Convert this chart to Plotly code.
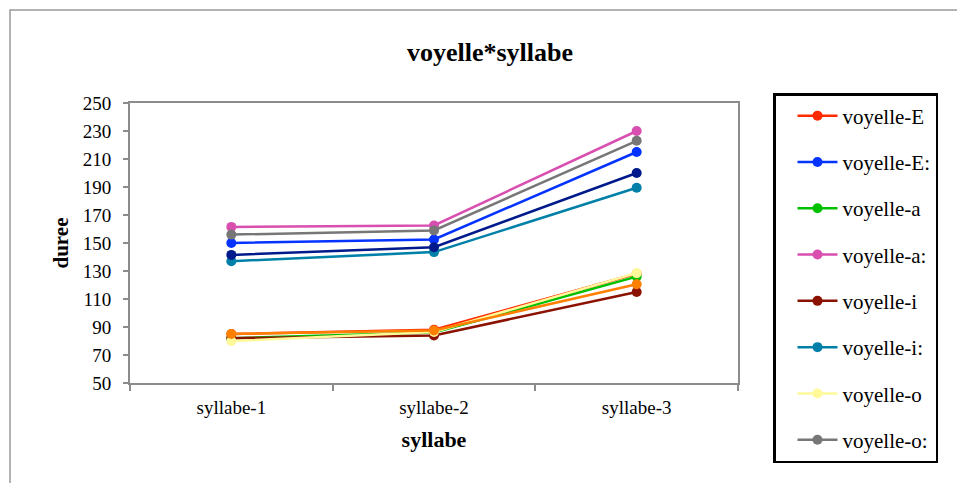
import plotly.graph_objects as go

categories = ["syllabe-1", "syllabe-2", "syllabe-3"]

series_names = ["voyelle-E", "voyelle-E:", "voyelle-a", "voyelle-a:", "voyelle-i",
                "voyelle-i:", "voyelle-o", "voyelle-o:", "voyelle-u", "voyelle-u:"]
voyelle_E = [85, 88, 128]
voyelle_E_long = [150, 152.5, 215]
voyelle_a = [82, 86, 126]
voyelle_a_long = [161.5, 162.5, 230]
voyelle_i = [82, 84, 115]
voyelle_i_long = [137, 143.5, 189.5]
voyelle_o = [80, 86.5, 128.5]
voyelle_o_long = [156, 159, 223]
voyelle_u = [85, 87.5, 120.5]
voyelle_u_long = [141.5, 147, 200]

values = [voyelle_E, voyelle_E_long, voyelle_a, voyelle_a_long, voyelle_i,
          voyelle_i_long, voyelle_o, voyelle_o_long, voyelle_u, voyelle_u_long]
colors = ["#FF2A00", "#0433FF", "#00C000", "#D94FB0", "#8B1200",
          "#0080A8", "#FFF99A", "#777777", "#FF8000", "#001A8C"]
in_legend = [True] * 8 + [False, False]

FONT = "Liberation Serif"

fig = go.Figure()
for i, (name, vals, col, show) in enumerate(zip(series_names, values, colors, in_legend)):
    fig.add_trace(go.Scatter(
        x=categories, y=vals, name=name, mode="lines+markers",
        line=dict(color=col, width=2.5),
        marker=dict(color=col, size=10, symbol="circle"),
        showlegend=show, legendgroup=f"g{i}",
    ))

W, H = 957, 483
L, R, T, B = 130, 219, 103, 100
pw, ph = W - L - R, H - T - B

def px(x):
    return (x - L) / pw

def py(y):
    return (H - B - y) / ph

fig.update_layout(
    width=W, height=H,
    margin=dict(l=L, r=R, t=T, b=B, autoexpand=False),
    paper_bgcolor="white", plot_bgcolor="white",
    font=dict(family=FONT, color="black", size=19),
    title=dict(text="<b>voyelle*syllabe</b>", x=490 / W, xref="container", xanchor="center",
               y=1 - 52 / H, yref="container", yanchor="middle",
               font=dict(family=FONT, size=26, color="black")),
    legend=dict(x=px(773), y=py(93), xanchor="left", yanchor="top",
                bordercolor="black", borderwidth=2.5, bgcolor="white",
                font=dict(family=FONT, size=21, color="black"),
                tracegroupgap=16, itemwidth=40, indentation=17, maxheight=420),
    shapes=[
        dict(type="rect", xref="paper", yref="paper",
             x0=px(10), x1=px(970), y0=py(495), y1=py(10),
             line=dict(color="#9a9a9a", width=1.5), layer="below"),
    ],
    xaxis=dict(
        type="category", range=[-0.5, 2.5], showline=True, linecolor="#8c8c8c", linewidth=2,
        mirror=True, ticks="outside", tickson="boundaries", ticklen=6, tickcolor="#8c8c8c",
        tickwidth=2, showgrid=False, tickfont=dict(family=FONT, size=19), ticklabelstandoff=6,
        title=dict(text="<b>syllabe</b>", font=dict(family=FONT, size=22), standoff=15),
        automargin=False,
    ),
    yaxis=dict(
        range=[50, 250], tickmode="array", tickvals=list(range(50, 251, 20)),
        showline=True, linecolor="#8c8c8c", linewidth=2, mirror=True,
        ticks="outside", ticklen=5, tickcolor="#8c8c8c", tickwidth=2,
        showgrid=False, zeroline=False, tickfont=dict(family=FONT, size=19),
        ticklabelstandoff=8,
        title=dict(text="<b>duree</b>", font=dict(family=FONT, size=21), standoff=8),
        automargin=False,
    ),
)

fig.write_html("out.html", config={"displayModeBar": False},
               post_script="document.body.style.margin='0';")
